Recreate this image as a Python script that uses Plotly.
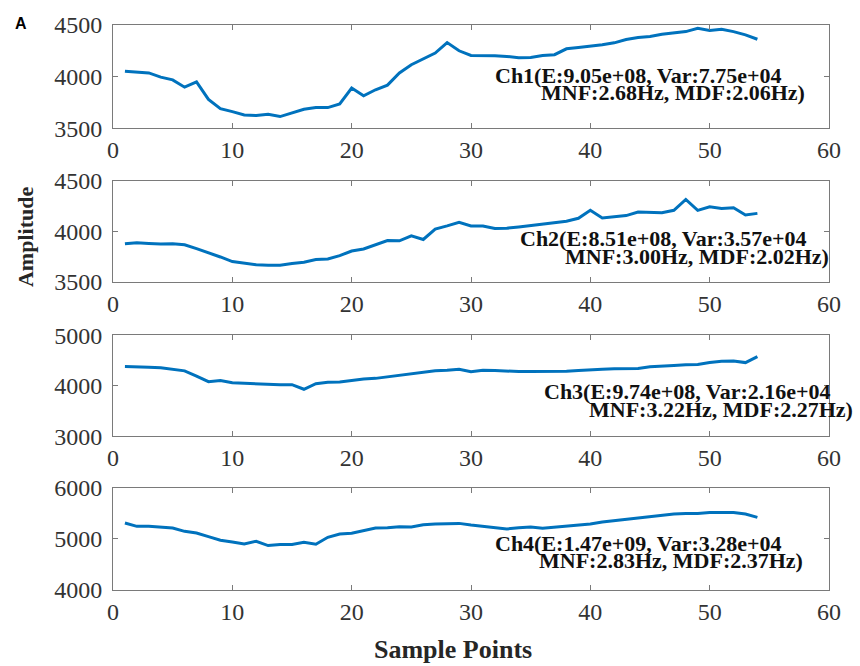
import plotly.graph_objects as go

samples = list(range(1, 55))

ch1 = [4051, 4045, 4035, 3994, 3968, 3897, 3949, 3779, 3689, 3660,
       3628, 3622, 3635, 3612, 3647, 3683, 3699, 3699, 3734, 3888,
       3814, 3872, 3917, 4035, 4115, 4170, 4228, 4330, 4250, 4205,
       4205, 4202, 4195, 4183, 4186, 4205, 4212, 4269, 4282, 4292,
       4308, 4327, 4359, 4378, 4388, 4410, 4426, 4436, 4468, 4446,
       4458, 4436, 4404, 4362]
ch2 = [3876, 3886, 3879, 3873, 3876, 3866, 3827, 3788, 3745, 3699,
       3680, 3667, 3663, 3663, 3680, 3693, 3719, 3725, 3758, 3804,
       3824, 3863, 3908, 3905, 3954, 3918, 4020, 4052, 4088, 4052,
       4052, 4026, 4029, 4042, 4056, 4072, 4088, 4098, 4127, 4206,
       4131, 4141, 4154, 4190, 4190, 4183, 4206, 4314, 4206, 4242,
       4225, 4232, 4160, 4176]
ch3 = [4381, 4381, 4368, 4355, 4322, 4296, 4192, 4081, 4107, 4062,
       4049, 4036, 4023, 4023, 4023, 3932, 4042, 4068, 4075, 4107,
       4134, 4147, 4179, 4212, 4244, 4277, 4296, 4309, 4329, 4277,
       4309, 4303, 4290, 4283, 4283, 4283, 4290, 4290, 4303, 4322,
       4329, 4335, 4342, 4342, 4375, 4394, 4401, 4414, 4420, 4459,
       4485, 4492, 4459, 4577]
ch4 = [5312, 5247, 5247, 5234, 5214, 5149, 5117, 5045, 4974, 4942,
       4903, 4955, 4870, 4890, 4890, 4935, 4896, 5032, 5097, 5110,
       5162, 5214, 5221, 5240, 5234, 5279, 5292, 5299, 5305, 5273,
       5247, 5214, 5195, 5221, 5234, 5208, 5227, 5247, 5266, 5292,
       5331, 5357, 5383, 5416, 5442, 5468, 5487, 5500, 5500, 5519,
       5519, 5519, 5487, 5422]

series = [ch1, ch2, ch3, ch4]
y_ranges = [[3500, 4500], [3500, 4500], [3000, 5000], [4000, 6000]]
y_ticks = [[3500, 4000, 4500], [3500, 4000, 4500], [3000, 4000, 5000], [4000, 5000, 6000]]
x_ticks = [0, 10, 20, 30, 40, 50, 60]

stat_line1 = ["Ch1(E:9.05e+08, Var:7.75e+04",
              "Ch2(E:8.51e+08, Var:3.57e+04",
              "Ch3(E:9.74e+08, Var:2.16e+04",
              "Ch4(E:1.47e+09, Var:3.28e+04"]
stat_line2 = ["MNF:2.68Hz, MDF:2.06Hz)",
              "MNF:3.00Hz, MDF:2.02Hz)",
              "MNF:3.22Hz, MDF:2.27Hz)",
              "MNF:2.83Hz, MDF:2.37Hz)"]
# annotation anchor positions (data coords)
line1_pos = [(31.87, 4010), (33.97, 3931), (35.92, 3882), (31.87, 4918)]
line2_pos = [(35.70, 3843), (37.74, 3752), (39.70, 3535), (35.56, 4569)]

domains = [[0.8175, 1.0], [0.5456, 0.7246], [0.2719, 0.4509], [0.0, 0.1807]]

SERIF = "Times New Roman, Liberation Serif, serif"
fig = go.Figure()
LINE_COLOR = "#0072BD"
AX_COLOR = "#7a7a7a"
TICK_FONT = dict(family=SERIF, size=24, color="#333333")
ANN_FONT = dict(family=SERIF, size=22, color="#111111")

for i, ys in enumerate(series):
    xa = "x" if i == 0 else f"x{i+1}"
    ya = "y" if i == 0 else f"y{i+1}"
    fig.add_trace(go.Scatter(x=samples, y=ys, mode="lines",
                             line=dict(color=LINE_COLOR, width=3),
                             xaxis=xa, yaxis=ya, showlegend=False))
    xkey = "xaxis" if i == 0 else f"xaxis{i+1}"
    ykey = "yaxis" if i == 0 else f"yaxis{i+1}"
    fig.layout[xkey] = dict(domain=[0, 1], anchor=ya, range=[0, 60],
                            tickvals=x_ticks, ticks="inside", ticklen=5,
                            tickcolor=AX_COLOR, showline=True, linecolor=AX_COLOR,
                            linewidth=1, mirror="ticks", showgrid=False,
                            zeroline=False, tickfont=TICK_FONT)
    fig.layout[ykey] = dict(domain=domains[i], anchor=xa, range=y_ranges[i],
                            tickvals=y_ticks[i], ticks="inside", ticklen=5,
                            tickcolor=AX_COLOR, showline=True, linecolor=AX_COLOR,
                            linewidth=1, mirror="ticks", showgrid=False,
                            zeroline=False, tickfont=TICK_FONT,
                            ticklabelstandoff=5)
    fig.add_annotation(x=line1_pos[i][0], y=line1_pos[i][1], xref=xa, yref=ya,
                       text=f"<b>{stat_line1[i]}</b>", showarrow=False,
                       xanchor="left", yanchor="middle", font=ANN_FONT)
    fig.add_annotation(x=line2_pos[i][0], y=line2_pos[i][1], xref=xa, yref=ya,
                       text=f"<b>{stat_line2[i]}</b>", showarrow=False,
                       xanchor="left", yanchor="middle", font=ANN_FONT)

fig.add_annotation(x=0.475, y=-0.105, xref="paper", yref="paper",
                   text="<b>Sample Points</b>", showarrow=False,
                   xanchor="center", yanchor="middle",
                   font=dict(family=SERIF, size=26, color="#262626"))
fig.add_annotation(x=-0.123, y=0.6246, xref="paper", yref="paper",
                   text="<b>Amplitude</b>", showarrow=False, textangle=-90,
                   xanchor="center", yanchor="middle",
                   font=dict(family=SERIF, size=22, color="#262626"))
fig.add_annotation(x=-0.1285, y=1.0018, xref="paper", yref="paper",
                   text="<b>A</b>", showarrow=False,
                   xanchor="center", yanchor="middle",
                   font=dict(family="Liberation Sans", size=16, color="#000000"))

fig.update_layout(width=860, height=666,
                  margin=dict(l=113, r=31, t=20, b=76),
                  paper_bgcolor="white", plot_bgcolor="white")

fig.write_html("out.html")
